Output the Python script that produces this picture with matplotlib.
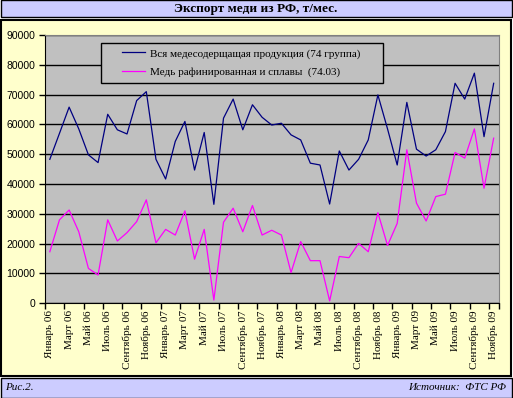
import matplotlib
matplotlib.use('Agg')
import matplotlib.pyplot as plt
from matplotlib.patches import Rectangle

# months Jan 2006 .. Nov 2009
month_names = ['Январь', 'Февраль', 'Март', 'Апрель', 'Май', 'Июнь',
               'Июль', 'Август', 'Сентябрь', 'Октябрь', 'Ноябрь', 'Декабрь']
months = [f'{m} {y:02d}' for y in range(6, 10) for m in month_names][:47]

# t/month
all_copper = [48300, 57000, 65800, 58500, 49800, 47200, 63400, 58200, 56800, 68000, 71000, 48300,
              41700, 54300, 61000, 44700, 57300, 33200, 62100, 68500, 58200, 66600, 62400, 59800,
              60400, 56500, 54800, 47000, 46400, 33300, 51100, 44700, 48300, 54800, 69900, 58500,
              46400, 67400, 51700, 49400, 51500, 57600, 73800, 68500, 77200, 55900, 73800]
refined = [17300, 28000, 31300, 24000, 11700, 9500, 28000, 20900, 23700, 27400, 34700, 20300,
           24800, 22900, 31000, 14800, 24800, 1100, 27200, 31900, 24000, 32800, 22900, 24500,
           22900, 10300, 20700, 14300, 14300, 800, 15700, 15300, 20100, 17300, 30400, 19400,
           26800, 51500, 33600, 27600, 35800, 36600, 50600, 48700, 58500, 38600, 55400]
y_ticks = list(range(0, 90001, 10000))

W, H = 513, 398
fig = plt.figure(figsize=(W / 100, H / 100), dpi=100, facecolor='white')


def box(x0, y0, x1, y1, color, lw):
    # rectangle in pixel coords, y from top
    fig.patches.append(Rectangle((x0 / W, 1 - y1 / H), (x1 - x0) / W, (y1 - y0) / H,
                                 transform=fig.transFigure, facecolor=color,
                                 edgecolor='black', linewidth=lw, zorder=-5))


box(0.5, 0.5, 512, 17, '#CCCCFF', 1.0)
box(1, 20, 511, 376, '#FFFFCC', 1.5)
box(0.5, 378, 512, 397.5, '#CCCCFF', 1.0)

serif = 'Liberation Serif'
fig.text(256 / W, 1 - 9 / H, 'Экспорт меди из РФ, т/мес.', ha='center', va='center',
         family=serif, fontweight='bold', fontsize=9.5)
fig.text(5 / W, 1 - 388 / H, 'Рис.2.', ha='left', va='center', family=serif,
         style='italic', fontsize=8)
fig.text(506 / W, 1 - 388 / H, 'Источник:  ФТС РФ', ha='right', va='center', family=serif,
         style='italic', fontsize=8)

AX_L, AX_T, AX_R, AX_B = 45, 35, 498.5, 303.3
ax = fig.add_axes([AX_L / W, 1 - AX_B / H, (AX_R - AX_L) / W, (AX_B - AX_T) / H])
ax.set_zorder(1)
ax.set_facecolor('#C0C0C0')
x = list(range(len(months)))
ax.plot(x, all_copper, color='#000080', lw=0.9, label='Вся медесодерщащая продукция (74 группа)')
ax.plot(x, refined, color='#FF00FF', lw=0.9, label='Медь рафинированная и сплавы  (74.03)')

ax.set_xlim(-0.5, len(months) - 0.5)
ax.set_ylim(0, 90000)
ax.set_yticks(y_ticks)
ax.set_yticklabels([str(v) for v in y_ticks], family='Liberation Sans', fontsize=7.5)
ax.grid(axis='y', color='black', lw=1.0)
ax.set_axisbelow(True)

ax.set_xticks([i - 0.5 for i in range(0, len(months), 2)] + [len(months) - 0.5])
ax.set_xticklabels([])
ax.set_xticks(x[::2], minor=True)
ax.set_xticklabels(months[::2], minor=True, rotation=90, family=serif, fontsize=8)
ax.tick_params(axis='x', which='minor', length=0, pad=5)
ax.tick_params(axis='both', which='major', direction='out', length=4, width=1, color='black')
ax.tick_params(axis='y', pad=3)

for s in ['top', 'right']:
    ax.spines[s].set_color('#808080')
for s in ['left', 'bottom']:
    ax.spines[s].set_color('black')


def ax_frac(px, py):
    return (px - AX_L) / (AX_R - AX_L), (AX_B - py) / (AX_B - AX_T)


# legend frame drawn by hand so it can be wider than its content
fx0, fy1 = ax_frac(101, 83)
fx1, fy0 = ax_frac(383, 43)
ax.add_patch(Rectangle((fx0, fy1), fx1 - fx0, fy0 - fy1, transform=ax.transAxes,
                       facecolor='#C0C0C0', edgecolor='black', lw=1.0, zorder=4))
leg = ax.legend(loc='upper left', bbox_to_anchor=ax_frac(122, 48.5), frameon=False,
                prop={'family': serif, 'size': 8}, handlelength=2.1, handletextpad=0.4,
                borderpad=0, labelspacing=0.75, borderaxespad=0)
leg.set_zorder(5)

fig.savefig('out.png', dpi=100, facecolor='white')
